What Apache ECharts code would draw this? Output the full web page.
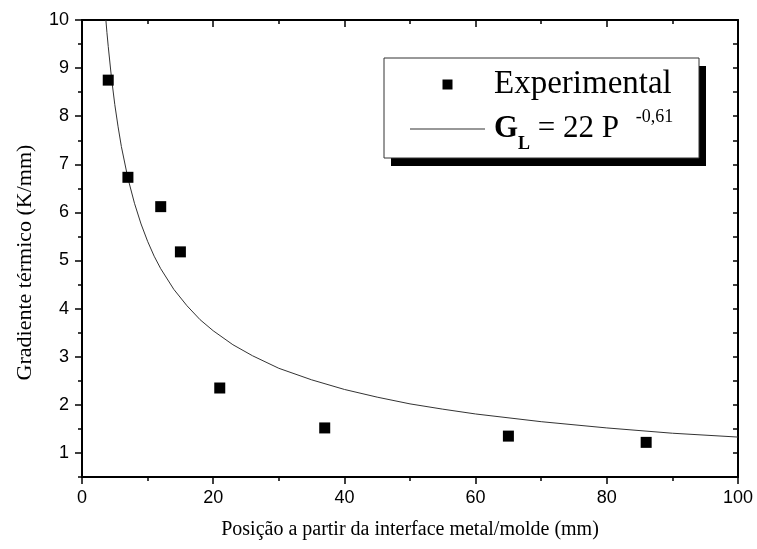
<!DOCTYPE html>
<html>
<head>
<meta charset="utf-8">
<script src="https://cdn.jsdelivr.net/npm/echarts@6/dist/echarts.min.js"></script>
<style>
html,body{margin:0;padding:0;background:#fff;}
#chart{width:757px;height:549px;}
</style>
</head>
<body>
<div id="chart"></div>
<script>
// Experimental points
const expX = [4, 7, 12, 15, 21, 37, 65, 86];
const expY = [8.75, 6.73, 6.12, 5.18, 2.35, 1.52, 1.35, 1.22];
// Fitted curve G_L = 22 P^-0,61
const fitX = [3.64, 3.8, 4, 4.5, 5, 5.5, 6, 7, 8, 9, 10, 11, 12, 14, 16, 18, 20, 23, 26, 30, 35, 40, 45, 50, 55, 60, 70, 80, 90, 100];
const fitY = [10.0, 9.74, 9.45, 8.79, 8.24, 7.78, 7.37, 6.71, 6.19, 5.76, 5.40, 5.09, 4.83, 4.40, 4.06, 3.77, 3.54, 3.25, 3.02, 2.76, 2.52, 2.32, 2.16, 2.02, 1.91, 1.81, 1.65, 1.52, 1.41, 1.33];
// Tick labels
const yTickValues = [1, 2, 3, 4, 5, 6, 7, 8, 9, 10];

const xTitle = 'Posição a partir da interface metal/molde (mm)';
const yTitle = 'Gradiente térmico (K/mm)';
const seriesExp = 'Experimental';
const seriesFit = 'Ajuste';

const chart = echarts.init(document.getElementById('chart'), null, {renderer: 'canvas'});

const sans = 'Liberation Sans, Arial, sans-serif';
const serif = 'Liberation Serif, Times New Roman, serif';
const black = '#000';

const option = {
  backgroundColor: '#fff',
  animation: false,
  grid: {left: 82, right: 19, top: 20, bottom: 72, containLabel: false},
  xAxis: [
    {
      type: 'value', position: 'bottom', min: 0, max: 100, interval: 20,
      name: xTitle, nameLocation: 'middle', nameGap: 43,
      nameTextStyle: {fontFamily: serif, fontSize: 20, color: black},
      axisLine: {show: true, lineStyle: {color: black, width: 2}},
      axisTick: {show: true, inside: false, length: 7, lineStyle: {color: black, width: 1.5}},
      minorTick: {show: true, splitNumber: 2, length: 4, lineStyle: {color: black, width: 1.5}},
      axisLabel: {fontFamily: sans, fontSize: 18, color: black, margin: 12},
      splitLine: {show: false}
    },
    {
      type: 'value', position: 'top', min: 0, max: 100, interval: 20,
      axisLine: {show: true, lineStyle: {color: black, width: 2}},
      axisTick: {show: true, inside: true, length: 7, lineStyle: {color: black, width: 1.5}},
      minorTick: {show: true, splitNumber: 2, length: 4, lineStyle: {color: black, width: 1.5}},
      axisLabel: {show: false},
      splitLine: {show: false}
    }
  ],
  yAxis: [
    {
      type: 'value', position: 'left', min: 0.5, max: 10,
      name: yTitle, nameLocation: 'middle', nameGap: 46, nameRotate: 90,
      nameTextStyle: {fontFamily: serif, fontSize: 22, color: black, padding: [0, 28, 0, 0]},
      axisLine: {show: true, lineStyle: {color: black, width: 2}},
      axisTick: {show: true, inside: false, length: 7, customValues: yTickValues, lineStyle: {color: black, width: 1.5}},
      axisLabel: {fontFamily: sans, fontSize: 18, color: black, margin: 13, customValues: yTickValues},
      splitLine: {show: false}
    },
    {
      type: 'value', position: 'left', min: 0.5, max: 10, interval: 0.5,
      axisLine: {show: false},
      axisTick: {show: true, inside: false, length: 4, lineStyle: {color: black, width: 1.5}},
      axisLabel: {show: false},
      splitLine: {show: false}
    },
    {
      type: 'value', position: 'right', min: 0.5, max: 10, interval: 0.5,
      axisLine: {show: true, lineStyle: {color: black, width: 2}},
      axisTick: {show: true, inside: true, length: 5, lineStyle: {color: black, width: 1.5}},
      axisLabel: {show: false},
      splitLine: {show: false}
    }
  ],
  graphic: [
    {
      type: 'rect', z: 50,
      shape: {x: 391, y: 66, width: 315, height: 100},
      style: {fill: '#000'}
    },
    {
      type: 'rect', z: 51,
      shape: {x: 384, y: 58, width: 315, height: 100},
      style: {fill: '#fff', stroke: '#333', lineWidth: 1}
    }
  ],
  legend: {
    z: 60,
    orient: 'vertical', left: 410, top: 68, padding: 0, itemGap: 7,
    itemWidth: 75, itemHeight: 10,
    data: [
      {name: seriesExp, icon: 'path://M0,0h10v10h-10z', itemStyle: {color: black, opacity: 1}},
      {name: seriesFit, icon: 'path://M0,0h75v1h-75z', itemStyle: {color: '#333'}}
    ],
    formatter: function (name) {
      if (name === seriesExp) return '{e|' + name + '}';
      return '{g|G}{l|L}{m| = 22 P }{s|-0,61}';
    },
    textStyle: {
      color: black,
      rich: {
        e: {fontFamily: serif, fontSize: 33, lineHeight: 36, color: black, padding: [0, 0, 0, 4]},
        g: {fontFamily: serif, fontSize: 31, fontWeight: 'bold', color: black, padding: [0, 0, 0, 4]},
        l: {fontFamily: serif, fontSize: 18, fontWeight: 'bold', color: black, padding: [31, 0, 0, 0]},
        m: {fontFamily: serif, fontSize: 31, color: black},
        s: {fontFamily: serif, fontSize: 18, color: black, padding: [0, 0, 24, 9]}
      }
    }
  },
  series: [
    {
      name: seriesExp, type: 'scatter', xAxisIndex: 0, yAxisIndex: 0,
      symbol: 'rect', symbolSize: 11,
      itemStyle: {color: black, opacity: 1},
      data: expX.map((x, i) => [x, expY[i]]),
      z: 3
    },
    {
      name: seriesFit, type: 'line', xAxisIndex: 0, yAxisIndex: 0,
      symbol: 'none', smooth: false,
      lineStyle: {color: '#333', width: 1},
      itemStyle: {color: '#333'},
      data: fitX.map((x, i) => [x, fitY[i]]),
      z: 2
    }
  ]
};
chart.setOption(option);
</script>
</body>
</html>
